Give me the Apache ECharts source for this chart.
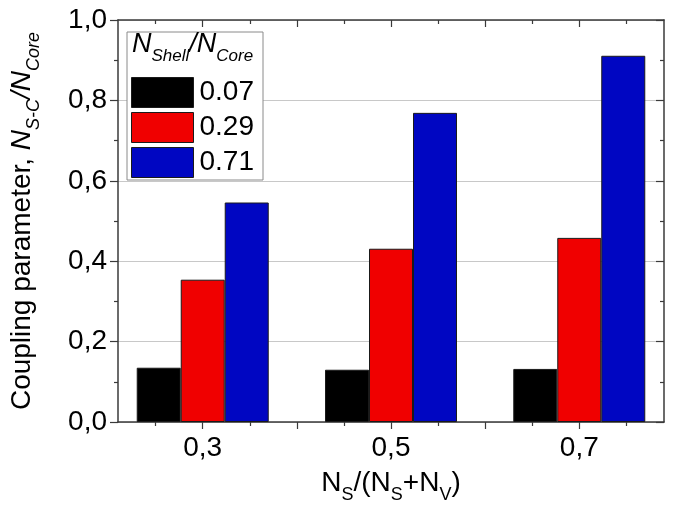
<!DOCTYPE html>
<html>
<head>
<meta charset="utf-8">
<script src="https://cdn.jsdelivr.net/npm/echarts@6/dist/echarts.min.js"></script>
<style>
html,body{margin:0;padding:0;background:#fff;}
#chart{width:684px;height:509px;}
</style>
</head>
<body>
<div id="chart"></div>
<script>
// ---- data ----
const categories = [0.3, 0.5, 0.7];
const seriesNames = ['0.07', '0.29', '0.71'];
const valuesShell007 = [0.135, 0.130, 0.132];
const valuesShell029 = [0.354, 0.431, 0.458];
const valuesShell071 = [0.546, 0.769, 0.911];
const xMajorTicks = [0.3, 0.4, 0.5, 0.6, 0.7];
const xMinorTicks = [0.25, 0.35, 0.45, 0.55, 0.65, 0.75];
const xTickLabels = [0.3, 0.5, 0.7];

const colors = ['#000000', '#f00000', '#0006c2'];
const FONT = '"Liberation Sans", Arial, sans-serif';
const AXIS_COLOR = '#3a3a3a';
const comma = v => Number(v).toFixed(1).replace('.', ',');

const seriesValues = [valuesShell007, valuesShell029, valuesShell071];

const chart = echarts.init(document.getElementById('chart'), null, {renderer: 'canvas'});

const xCommon = {type: 'value', min: 0.21, max: 0.79, splitLine: {show: false}};

const option = {
  backgroundColor: '#ffffff',
  animation: false,
  textStyle: {fontFamily: FONT},
  grid: {left: 116, right: 20, top: 20, bottom: 84, containLabel: false},
  title: {
    left: 132, top: 37, padding: 0,
    text: '{n|N}{s|Shell}{n|/N}{s|Core}',
    textStyle: {
      fontWeight: 'normal',
      rich: {
        n: {fontSize: 27, fontStyle: 'italic', fontWeight: 'normal', fontFamily: FONT, color: '#000', lineHeight: 28, padding: [0, 0, 7, 0], verticalAlign: 'bottom'},
        s: {fontSize: 17, fontStyle: 'italic', fontWeight: 'normal', fontFamily: FONT, color: '#000', lineHeight: 18, verticalAlign: 'bottom'}
      }
    }
  },
  graphic: [{
    type: 'rect', z: 3,
    shape: {x: 127, y: 32, width: 136, height: 148},
    style: {fill: '#ffffff', stroke: '#8a8a8a', lineWidth: 1}
  }],
  legend: {
    orient: 'vertical', left: 131, top: 77, padding: 0,
    itemWidth: 62, itemHeight: 30, itemGap: 4,
    icon: 'rect',
    data: seriesNames,
    textStyle: {fontSize: 28, color: '#000', fontFamily: FONT, padding: [0, 0, 0, 1]},
    itemStyle: {borderColor: '#1a1a1a', borderWidth: 1}
  },
  xAxis: [
    Object.assign({}, xCommon, {
      position: 'bottom',
      name: '{n|N}{s|S}{n|/(N}{s|S}{n|+N}{s|V}{n|)}',
      nameLocation: 'middle', nameGap: 53,
      nameTextStyle: {
        rich: {
          n: {fontSize: 28, fontFamily: FONT, color: '#000', lineHeight: 29, padding: [0, 0, 7, 0], verticalAlign: 'bottom'},
          s: {fontSize: 18, fontFamily: FONT, color: '#000', lineHeight: 19, verticalAlign: 'bottom'}
        }
      },
      axisLine: {show: true, onZero: false, lineStyle: {color: AXIS_COLOR, width: 1.5}},
      axisTick: {show: true, inside: false, length: 7, customValues: xMajorTicks, lineStyle: {color: AXIS_COLOR, width: 1.2}},
      axisLabel: {show: true, customValues: xTickLabels, formatter: comma, fontSize: 28, color: '#000', margin: 12, fontFamily: FONT}
    }),
    Object.assign({}, xCommon, {
      position: 'bottom',
      axisLine: {show: false, onZero: false},
      axisTick: {show: true, inside: false, length: 4, customValues: xMinorTicks, lineStyle: {color: AXIS_COLOR, width: 1.2}},
      axisLabel: {show: false}
    }),
    Object.assign({}, xCommon, {
      position: 'top',
      axisLine: {show: true, onZero: false, lineStyle: {color: AXIS_COLOR, width: 1.5}},
      axisTick: {show: true, inside: true, length: 7, customValues: xMajorTicks, lineStyle: {color: AXIS_COLOR, width: 1.2}},
      axisLabel: {show: false}
    }),
    Object.assign({}, xCommon, {
      position: 'top',
      axisLine: {show: false, onZero: false},
      axisTick: {show: true, inside: true, length: 4, customValues: xMinorTicks, lineStyle: {color: AXIS_COLOR, width: 1.2}},
      axisLabel: {show: false}
    })
  ],
  yAxis: [
    {
      type: 'value', position: 'left', min: 0, max: 1, interval: 0.2,
      name: '{t|Coupling parameter, }{n|N}{s|S-C}{n|/N}{s|Core}',
      nameLocation: 'middle', nameGap: 75, nameRotate: 90,
      nameTextStyle: {
        rich: {
          t: {fontSize: 28, fontFamily: FONT, color: '#000', lineHeight: 29, padding: [0, 0, 7, 0], verticalAlign: 'bottom'},
          n: {fontSize: 28, fontStyle: 'italic', fontFamily: FONT, color: '#000', lineHeight: 29, padding: [0, 0, 7, 0], verticalAlign: 'bottom'},
          s: {fontSize: 18, fontStyle: 'italic', fontFamily: FONT, color: '#000', lineHeight: 19, verticalAlign: 'bottom'}
        }
      },
      axisLine: {show: true, onZero: false, lineStyle: {color: AXIS_COLOR, width: 1.5}},
      axisTick: {show: true, inside: false, length: 8, lineStyle: {color: AXIS_COLOR, width: 1.2}},
      minorTick: {show: true, splitNumber: 2, length: 4, lineStyle: {color: AXIS_COLOR, width: 1.2}},
      axisLabel: {formatter: comma, fontSize: 28, color: '#000', margin: 11, fontFamily: FONT},
      splitLine: {show: true, lineStyle: {color: '#c8c8c8', width: 1.2}}
    },
    {
      type: 'value', position: 'right', min: 0, max: 1, interval: 0.2,
      axisLine: {show: true, onZero: false, lineStyle: {color: AXIS_COLOR, width: 1.5}},
      axisTick: {show: true, inside: true, length: 8, lineStyle: {color: AXIS_COLOR, width: 1.2}},
      minorTick: {show: true, splitNumber: 2, length: 4, lineStyle: {color: AXIS_COLOR, width: 1.2}},
      axisLabel: {show: false},
      splitLine: {show: false}
    }
  ],
  series: seriesNames.map((name, si) => ({
    name: name,
    type: 'bar',
    xAxisIndex: 0,
    yAxisIndex: 0,
    barWidth: 44,
    barGap: '0%',
    z: 2,
    itemStyle: {color: colors[si], borderColor: '#1a1a1a', borderWidth: 1},
    data: categories.map((c, i) => [c, seriesValues[si][i]])
  }))
};

chart.setOption(option);
</script>
</body>
</html>
